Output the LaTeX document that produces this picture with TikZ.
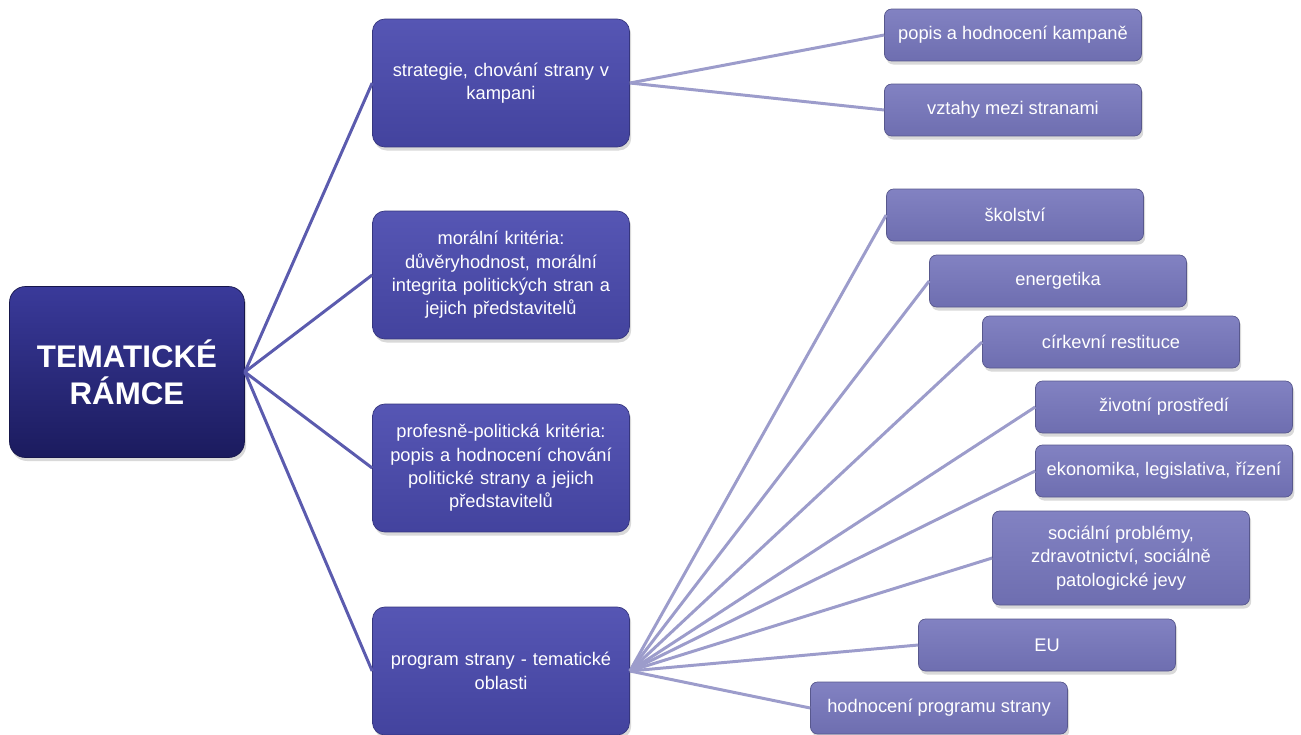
\documentclass[tikz,border=0pt]{standalone}
\usepackage{fontspec}
\setmainfont{Liberation Sans}
\usetikzlibrary{shadows}

\definecolor{roottop}{HTML}{3A3A9A}
\definecolor{rootbot}{HTML}{1B1B5E}
\definecolor{topictop}{HTML}{5656B4}
\definecolor{topicbot}{HTML}{43439E}
\definecolor{leaftop}{HTML}{8282C2}
\definecolor{leafbot}{HTML}{6E6EB0}
\definecolor{rootline}{HTML}{5B5BAE}
\definecolor{leafline}{HTML}{9C9CCB}

\tikzset{
  rootbox/.style={rounded corners=9pt, top color=roottop, bottom color=rootbot, draw=rootbot!80!black,
    minimum width=4.7cm, minimum height=3.42cm, text=white, align=center,
    font=\fontsize{17.8}{21}\selectfont\bfseries, drop shadow={opacity=.3, shadow xshift=1pt, shadow yshift=-2pt}},
  topicbox/.style={rounded corners=7pt, top color=topictop, bottom color=topicbot, draw=topicbot!80!black,
    minimum width=5.14cm, minimum height=2.56cm, text width=4.7cm, text=white, align=center,
    font=\fontsize{10.4}{13.3}\selectfont, drop shadow={opacity=.3, shadow xshift=1pt, shadow yshift=-2pt}},
  leafbox/.style={rounded corners=4pt, top color=leaftop, bottom color=leafbot, draw=leafbot!80!black,
    minimum width=5.14cm, minimum height=1.04cm, text=white, align=center,
    font=\fontsize{10.4}{13.3}\selectfont, drop shadow={opacity=.3, shadow xshift=1pt, shadow yshift=-2pt}},
  rootlink/.style={draw=rootline, line width=1.7pt},
  leaflink/.style={draw=leafline, line width=1.7pt}
}

\begin{document}
\begin{tikzpicture}[x=0.02cm, y=-0.02cm]
\useasboundingbox (0,0) rectangle (1301,734);

\node[rootbox] (root) at (127,372) {TEMATICKÉ\\RÁMCE};

\node[topicbox] (strat) at (501,83) {strategie, chování strany v\\kampani};
\node[topicbox] (moral) at (501,275) {morální kritéria:\\důvěryhodnost, morální\\integrita politických stran a\\jejich představitelů};
\node[topicbox] (prof) at (501,468) {profesně-politická kritéria:\\popis a hodnocení chování\\politické strany a jejich\\představitelů};
\node[topicbox] (prog) at (501,671) {program strany - tematické\\oblasti};

\node[leafbox] (camp) at (1013,35) {popis a hodnocení kampaně};
\node[leafbox] (rel) at (1013,110) {vztahy mezi stranami};

\node[leafbox] (school) at (1015,215) {školství};
\node[leafbox] (energy) at (1058,281) {energetika};
\node[leafbox] (church) at (1111,342) {církevní restituce};
\node[leafbox] (envir) at (1164,407) {životní prostředí};
\node[leafbox] (econ) at (1164,471) {ekonomika, legislativa, řízení};
\node[leafbox, minimum height=1.88cm] (social) at (1121,558) {sociální problémy,\\zdravotnictví, sociálně\\patologické jevy};
\node[leafbox] (eu) at (1047,645) {EU};
\node[leafbox] (eval) at (939,708) {hodnocení programu strany};

\foreach \t in {strat,moral,prof,prog}
  \draw[rootlink] (root.east) -- (\t.west);

\foreach \l in {camp,rel}
  \draw[leaflink] (strat.east) -- (\l.west);

\foreach \l in {school,energy,church,envir,econ,social,eu,eval}
  \draw[leaflink] (prog.east) -- (\l.west);

\end{tikzpicture}
\end{document}
